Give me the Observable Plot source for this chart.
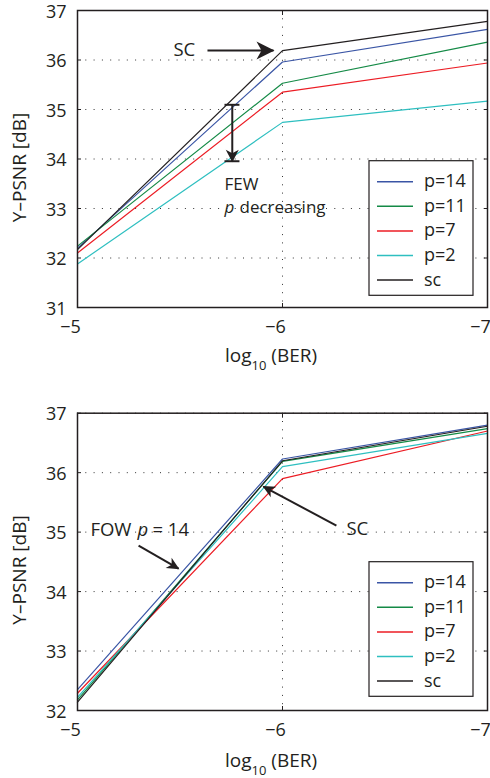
<!DOCTYPE html>
<html>
<head>
<meta charset="utf-8">
<script src="https://cdn.jsdelivr.net/npm/d3@7"></script>
<script src="https://cdn.jsdelivr.net/npm/@observablehq/plot@0.6"></script>
<style>
  body { margin: 0; background: #fff; }
  #wrap { width: 490px; }
  #wrap svg { display: block; }
</style>
</head>
<body>
<div id="wrap"></div>
<script>
// ---- data ----
const berTicks = [-5, -6, -7];                 // log10(BER)
const seriesNames = ["p=14", "p=11", "p=7", "p=2", "sc"];
const seriesColors = ["#3a55a5", "#148a46", "#ec1c24", "#2ebfc0", "#231f20"];

// top panel (FEW)
const fewP14 = [32.20, 35.96, 36.62];
const fewP11 = [32.24, 35.53, 36.36];
const fewP7  = [32.10, 35.35, 35.94];
const fewP2  = [31.88, 34.74, 35.17];
const fewSC  = [32.17, 36.19, 36.78];
const fewYTicks = [31, 32, 33, 34, 35, 36, 37];

// bottom panel (FOW)
const fowP14 = [32.35, 36.23, 36.80];
const fowP11 = [32.18, 36.19, 36.74];
const fowP7  = [32.29, 35.90, 36.70];
const fowP2  = [32.22, 36.10, 36.66];
const fowSC  = [32.14, 36.20, 36.78];
const fowYTicks = [32, 33, 34, 35, 36, 37];

// annotations (data coordinates)
const fewScLabel = [{x: -5.468, y: 36.09, t: "SC"}];
const fewScArrow = [{x1: -5.634, y1: 36.19, x2: -5.956, y2: 36.19}];
const fewBar = [{x1: -5.755, y1: 35.095, x2: -5.755, y2: 33.955}];
const fewCaps = [{x1: -5.717, x2: -5.790, y: 35.095}, {x1: -5.717, x2: -5.790, y: 33.955}];
const fewText1 = [{x: -5.717, y: 33.38, t: "FEW"}];
const fewText2 = [{x: -5.717, y: 32.90}];

const fowLabel = [{x: -5.063, y: 34.94}];
const fowArrow = [{x1: -5.298, y1: 34.773, x2: -5.493, y2: 34.386}];
const fowScArrow = [{x1: -6.263, y1: 35.109, x2: -5.907, y2: 35.766}];
const fowScLabel = [{x: -6.312, y: 34.958, t: "SC"}];

const INK = "#231f20";
const FONT = "'Open Sans', sans-serif";
const intFmt = d3.format("d");

function chart(cfg) {
  const data = [];
  cfg.series.forEach((vals, si) =>
    vals.forEach((v, i) => data.push({ber: berTicks[i], psnr: v, s: seriesNames[si]})));
  const grid = {stroke: "#333", strokeOpacity: 1, strokeWidth: 1, strokeDasharray: "1,7.3"};
  const noText = () => "";
  const svg = Plot.plot({
    width: 490, height: cfg.height,
    marginLeft: 77, marginRight: 3, marginTop: cfg.marginTop, marginBottom: cfg.marginBottom,
    style: {fontFamily: FONT, color: INK, background: "#fff", overflow: "visible"},
    x: {domain: [-5, -7]},
    y: {domain: cfg.yDomain},
    color: {domain: seriesNames, range: seriesColors},
    marks: [
      Plot.gridY(cfg.yTicks, grid),
      Plot.gridX([-6], grid),
      Plot.line(data, {x: "ber", y: "psnr", stroke: "s", strokeWidth: 1.2}),
      ...cfg.annotations,
      Plot.frame({stroke: INK, strokeWidth: 1.5}),
      Plot.axisX(berTicks, {tickSize: 0, tickPadding: 13, dx: -7, fontSize: 18, tickFormat: intFmt, label: null}),
      Plot.axisX(berTicks, {anchor: "bottom", tickSize: -4, tickFormat: noText, label: null}),
      Plot.axisX(berTicks, {anchor: "top", tickSize: -4, tickFormat: noText, label: null}),
      Plot.axisY(cfg.yTicks, {tickSize: 0, tickPadding: 11, dy: 1.5, fontSize: 18, tickFormat: intFmt, label: null}),
      Plot.axisY(cfg.yTicks, {anchor: "left", tickSize: -4, tickFormat: noText, label: null}),
      Plot.axisY(cfg.yTicks, {anchor: "right", tickSize: -4, tickFormat: noText, label: null})
    ]
  });

  const s = d3.select(svg);
  // filled arrowheads replace Plot's open arrow markers
  const defs = s.append("defs");
  const arrowPaths = s.selectAll("path[marker-end]").nodes();
  cfg.arrows.forEach((a, i) => {
    const id = `${cfg.id}-head-${i}`;
    const L = a.L, W = a.W, o = 1;
    defs.append("marker")
      .attr("id", id).attr("markerUnits", "userSpaceOnUse").attr("orient", "auto")
      .attr("markerWidth", 40).attr("markerHeight", 40).attr("refX", 0).attr("refY", 0)
      .attr("viewBox", "-20 -20 40 40").style("overflow", "visible")
      .append("path")
      .attr("d", `M${o},0L${o - L},${-W / 2}L${o - 0.72 * L},0L${o - L},${W / 2}Z`)
      .attr("fill", INK).attr("stroke", "none");
    if (arrowPaths[i]) arrowPaths[i].setAttribute("marker-end", `url(#${id})`);
  });

  // axis labels
  s.append("text")
    .attr("transform", `translate(25.5,${cfg.yLabelY}) rotate(-90)`)
    .attr("text-anchor", "middle").attr("fill", INK)
    .attr("font-family", FONT).attr("font-size", 19)
    .text("Y\u2013PSNR [dB]");
  const xl = s.append("text")
    .attr("x", 225).attr("y", cfg.xLabelY).attr("fill", INK).attr("text-anchor", "start")
    .attr("font-family", FONT).attr("font-size", 19);
  xl.append("tspan").text("log");
  xl.append("tspan").attr("font-size", 13).attr("dy", 8).text("10");
  xl.append("tspan").attr("dy", -8).text(" (BER)");

  // legend
  const lg = s.append("g").attr("text-anchor", "start");
  const lt = cfg.legendTop;
  lg.append("rect").attr("x", 369).attr("y", lt).attr("width", 104).attr("height", 134.6)
    .attr("fill", "#fff").attr("stroke", INK).attr("stroke-width", 1.2);
  seriesNames.forEach((n, i) => {
    const y = lt + 21 + i * 24.6;
    lg.append("line").attr("x1", 377).attr("x2", 413).attr("y1", y).attr("y2", y)
      .attr("stroke", seriesColors[i]).attr("stroke-width", 1.5);
    lg.append("text").attr("x", 424).attr("y", y + 5.5).attr("fill", INK)
      .attr("font-family", FONT).attr("font-size", 18).text(n);
  });
  return svg;
}

const textBase = {x: "x", y: "y", textAnchor: "start", lineAnchor: "bottom", fill: INK};
const arrowBase = {x1: "x1", y1: "y1", x2: "x2", y2: "y2", stroke: INK, strokeWidth: 2, markerEnd: "arrow"};

const chartFew = chart({
  id: "few",
  height: 390, marginTop: 10, marginBottom: 83,
  yDomain: [31, 37], yTicks: fewYTicks,
  series: [fewP14, fewP11, fewP7, fewP2, fewSC],
  yLabelY: 167.5, xLabelY: 362, legendTop: 160.7,
  arrows: [{L: 18, W: 18}, {L: 12.5, W: 13}],
  annotations: [
    Plot.link(fewScArrow, arrowBase),
    Plot.link(fewBar, arrowBase),
    Plot.link(fewCaps, {x1: "x1", x2: "x2", y1: "y", y2: "y", stroke: INK, strokeWidth: 2}),
    Plot.text(fewScLabel, {...textBase, text: "t", fontSize: 18.5}),
    Plot.text(fewText1, {...textBase, text: "t", fontSize: 17}),
    Plot.text(fewText2, {...textBase, text: () => "p", fontSize: 17, fontStyle: "italic"}),
    Plot.text(fewText2, {...textBase, text: () => "decreasing", fontSize: 17, dx: 15})
  ]
});

const chartFow = chart({
  id: "fow",
  height: 388, marginTop: 22.7, marginBottom: 68,
  yDomain: [32, 37], yTicks: fowYTicks,
  series: [fowP14, fowP11, fowP7, fowP2, fowSC],
  yLabelY: 180, xLabelY: 376.7, legendTop: 171.7,
  arrows: [{L: 12.5, W: 12}, {L: 12.5, W: 12}],
  annotations: [
    Plot.link(fowArrow, arrowBase),
    Plot.link(fowScArrow, arrowBase),
    Plot.text(fowLabel, {...textBase, text: () => "FOW", fontSize: 18.5}),
    Plot.text(fowLabel, {...textBase, text: () => "p", fontSize: 18.5, fontStyle: "italic", dx: 47}),
    Plot.text(fowLabel, {...textBase, text: () => "= 14", fontSize: 18.5, dx: 62}),
    Plot.text(fowScLabel, {...textBase, text: "t", fontSize: 18.5})
  ]
});

document.getElementById("wrap").append(chartFew, chartFow);
</script>
</body>
</html>
